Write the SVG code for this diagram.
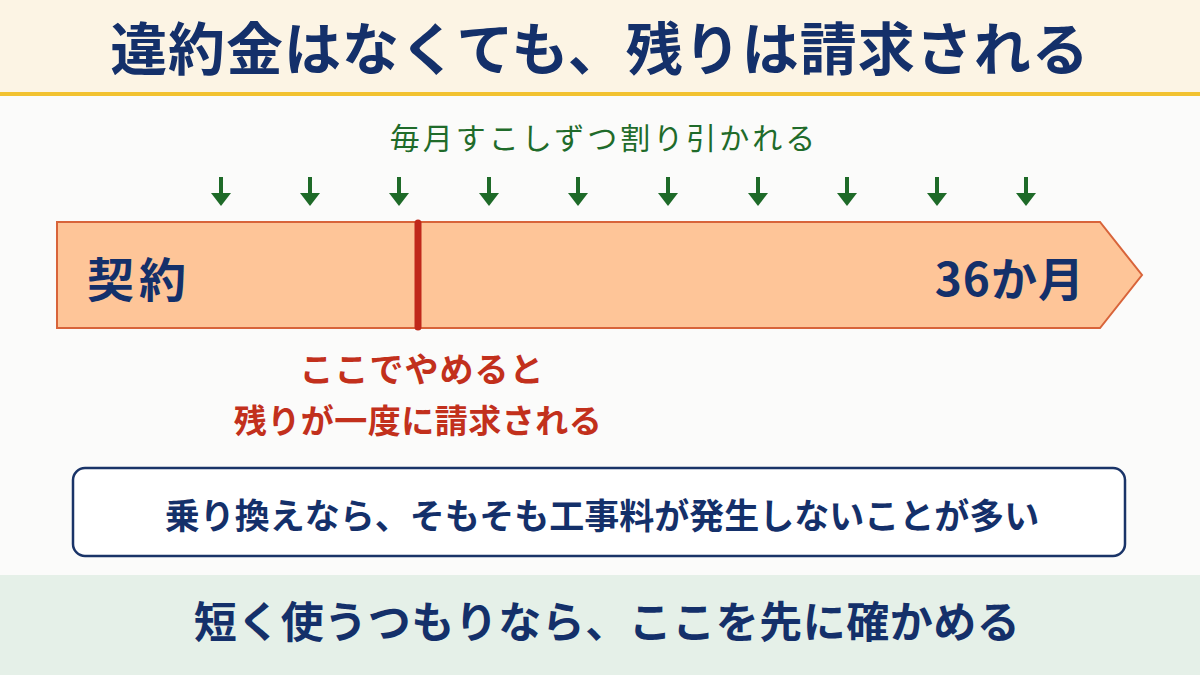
<svg xmlns="http://www.w3.org/2000/svg" width="1200" height="675" viewBox="0 0 1200 675">
<defs>
<style>
.jp{font-family:"Noto Sans CJK JP","Noto Sans",sans-serif}
.navy{fill:#14306a;font-weight:700}
.red{fill:#c2301c;font-weight:700}
.green{fill:#1f6b2a}
.arr{stroke:#1e6a28;stroke-width:4}
.ah{fill:#1e6a28}
</style>
</defs>
<rect x="0" y="0" width="1200" height="675" fill="#fbfbfa"/>
<g id="header">
<rect x="0" y="0" width="1200" height="93" fill="#fcf4e4"/>
<rect x="0" y="92" width="1200" height="4" fill="#f2c230"/>
<text class="jp navy" x="600" y="70" font-size="57" text-anchor="middle" letter-spacing="1">違約金はなくても、残りは請求される</text>
</g>
<g id="subtitle">
<text class="jp green" x="604" y="149" font-size="30" text-anchor="middle" letter-spacing="3">毎月すこしずつ割り引かれる</text>
</g>
<g id="arrows">
<g transform="translate(221,0)"><line class="arr" x1="0" y1="177" x2="0" y2="195"/><path class="ah" d="M-10,193 L10,193 L0,206 Z"/></g>
<g transform="translate(310,0)"><line class="arr" x1="0" y1="177" x2="0" y2="195"/><path class="ah" d="M-10,193 L10,193 L0,206 Z"/></g>
<g transform="translate(399,0)"><line class="arr" x1="0" y1="177" x2="0" y2="195"/><path class="ah" d="M-10,193 L10,193 L0,206 Z"/></g>
<g transform="translate(489,0)"><line class="arr" x1="0" y1="177" x2="0" y2="195"/><path class="ah" d="M-10,193 L10,193 L0,206 Z"/></g>
<g transform="translate(578,0)"><line class="arr" x1="0" y1="177" x2="0" y2="195"/><path class="ah" d="M-10,193 L10,193 L0,206 Z"/></g>
<g transform="translate(668,0)"><line class="arr" x1="0" y1="177" x2="0" y2="195"/><path class="ah" d="M-10,193 L10,193 L0,206 Z"/></g>
<g transform="translate(758,0)"><line class="arr" x1="0" y1="177" x2="0" y2="195"/><path class="ah" d="M-10,193 L10,193 L0,206 Z"/></g>
<g transform="translate(847,0)"><line class="arr" x1="0" y1="177" x2="0" y2="195"/><path class="ah" d="M-10,193 L10,193 L0,206 Z"/></g>
<g transform="translate(937,0)"><line class="arr" x1="0" y1="177" x2="0" y2="195"/><path class="ah" d="M-10,193 L10,193 L0,206 Z"/></g>
<g transform="translate(1026,0)"><line class="arr" x1="0" y1="177" x2="0" y2="195"/><path class="ah" d="M-10,193 L10,193 L0,206 Z"/></g>
</g>
<g id="bar">
<path d="M57,222 L1100,222 L1142,275 L1100,328 L57,328 Z" fill="#fec598" stroke="#d8643a" stroke-width="2"/>
<line x1="418" y1="223" x2="418" y2="327" stroke="#c0281a" stroke-width="7" stroke-linecap="round"/>
<text class="jp navy" x="87" y="297" font-size="47" letter-spacing="5">契約</text>
<text class="jp navy" x="1085" y="296" font-size="46" text-anchor="end" letter-spacing="1">36か月</text>
</g>
<g id="note">
<text class="jp red" x="422" y="382" font-size="34" text-anchor="middle" letter-spacing="1">ここでやめると</text>
<text class="jp red" x="418" y="433" font-size="33" text-anchor="middle" letter-spacing="0.5">残りが一度に請求される</text>
</g>
<g id="box">
<rect x="73" y="468" width="1052" height="88" rx="12" fill="#ffffff" stroke="#1a3468" stroke-width="2.5"/>
<text class="jp navy" x="602" y="529" font-size="35" text-anchor="middle">乗り換えなら、そもそも工事料が発生しないことが多い</text>
</g>
<g id="footer">
<rect x="0" y="575" width="1200" height="100" fill="#e5f0e8"/>
<text class="jp navy" x="607" y="638" font-size="43" text-anchor="middle" letter-spacing="0.5">短く使うつもりなら、ここを先に確かめる</text>
</g>
</svg>
